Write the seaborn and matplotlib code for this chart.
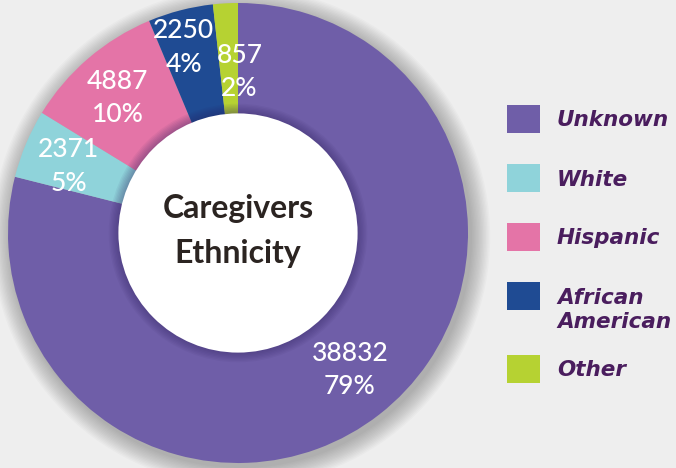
import numpy as np
import pandas as pd
import matplotlib.pyplot as plt
from matplotlib.patches import Circle, Rectangle
import seaborn as sns

# data
ethnicity = ['Unknown', 'White', 'Hispanic', 'African American', 'Other']
caregivers = [38832, 2371, 4887, 2250, 857]
pct_labels = ['79%', '5%', '10%', '4%', '2%']
legend_labels = ['Unknown', 'White', 'Hispanic', 'African\nAmerican', 'Other']
colors = ['#6f5ea8', '#8fd3da', '#e474a7', '#1f4b93', '#b6d232']

df = pd.DataFrame({'ethnicity': ethnicity, 'count': caregivers, 'pct': pct_labels})

sns.set_theme(style='white')
plt.rcParams['font.family'] = ['Lato', 'DejaVu Sans']
palette = sns.color_palette(colors)

W, H = 676, 468
fig = plt.figure(figsize=(W / 100, H / 100), dpi=100)
fig.patch.set_facecolor('#eeeeee')

# pixel-space layer: soft shadow behind the donut + legend
bg = fig.add_axes([0, 0, 1, 1])
bg.set_xlim(0, W)
bg.set_ylim(H, 0)
bg.axis('off')

cx, cy, R = 238, 233, 230
for k in range(14):
    bg.add_patch(Circle((cx + 3, cy + 4), R + 1 + k * 1.4, color='black', alpha=0.018, lw=0))

# donut
ax = fig.add_axes([(cx - R) / W, (H - cy - R) / H, 2 * R / W, 2 * R / H])
wedges, _ = ax.pie(df['count'], colors=palette, startangle=90, counterclock=False,
                   radius=1, wedgeprops=dict(linewidth=0))
ax.set_xlim(-1, 1)
ax.set_ylim(-1, 1)
ax.axis('off')

# value labels (radius, angle nudge per slice)
lab_r = [0.77, 0.79, 0.785, 0.84, 0.70]
lab_da = [1.3, 1.4, 1.1, 1.8, -3.7]
for w, n, p, r, da in zip(wedges, df['count'], df['pct'], lab_r, lab_da):
    ang = np.deg2rad((w.theta1 + w.theta2) / 2 + da)
    ax.text(r * np.cos(ang), r * np.sin(ang), f'{n}\n{p}', ha='center', va='center',
            color='white', fontsize=19, fontweight='medium', linespacing=1.42)

# inner shadow + hole
for k in range(8):
    ax.add_patch(Circle((0, 0), 0.52 + k * 0.006, color='#2d1f5e', alpha=0.06, lw=0))
ax.add_patch(Circle((0, 0), 0.52, color='white', lw=0))
ax.text(0, 0.01, 'Caregivers\nEthnicity', ha='center', va='center', fontsize=23,
        fontweight='bold', color='#2b2421', linespacing=1.65)

# legend
y = 119
for lab, c in zip(legend_labels, palette):
    bg.add_patch(Rectangle((507, y - 14), 33, 28, color=c, lw=0))
    for i, line in enumerate(lab.split('\n')):
        bg.text(557, y + 7.5 + i * 24, line, va='baseline', ha='left',
                family=['DejaVu Sans'], fontweight='bold', fontstyle='italic',
                fontsize=15.5, color='#4a1d5e')
    y += 59 + (14 if '\n' in lab else 0)

fig.savefig('out.png', dpi=100, facecolor=fig.get_facecolor())
